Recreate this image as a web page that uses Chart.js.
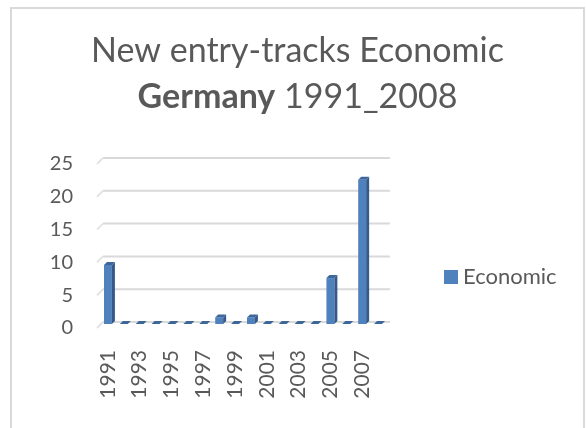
<!DOCTYPE html>
<html>
<head>
<meta charset="utf-8">
<script src="https://cdn.jsdelivr.net/npm/chart.js@4/dist/chart.umd.min.js"></script>
<style>
  html, body { margin: 0; padding: 0; background: #fff; overflow: hidden; }
  canvas { display: block; }
</style>
</head>
<body>
<canvas id="chart" width="586" height="428"></canvas>
<script>
// Yearly new entry-tracks (Economic), Germany
const years = ['1991','1992','1993','1994','1995','1996','1997','1998','1999',
               '2000','2001','2002','2003','2004','2005','2006','2007','2008'];
const economic = [9, 0, 0, 0, 0, 0, 0, 1, 0, 1, 0, 0, 0, 0, 7, 0, 22, 0];
const yTicks = [0, 5, 10, 15, 20, 25];
const seriesName = 'Economic';
const titleLine1 = 'New entry-tracks Economic';
const titleBold = 'Germany';
const titleRest = ' 1991_2008';

const FONT = 'Lato';
const TEXT = '#595959';
const BLUE = '#4f81bd';
const TITLE_SIZE = 34;

// Outer frame of the chart object
const framePlugin = {
  id: 'frame',
  beforeDraw(chart) {
    const ctx = chart.ctx;
    ctx.save();
    ctx.fillStyle = '#fff';
    ctx.fillRect(0, 0, chart.width, chart.height);
    ctx.strokeStyle = '#d9d9d9';
    ctx.lineWidth = 2;
    ctx.strokeRect(11, 8, 573, 520);
    ctx.restore();
  }
};

// Two-line title, second line with a bold country name
const titlePlugin = {
  id: 'twoLineTitle',
  afterDraw(chart) {
    const ctx = chart.ctx;
    const cx = 297.5;
    const regular = `${TITLE_SIZE}px ${FONT}`;
    const bold = `bold ${TITLE_SIZE}px ${FONT}`;
    ctx.save();
    ctx.fillStyle = TEXT;
    ctx.textBaseline = 'alphabetic';
    ctx.textAlign = 'left';
    ctx.font = regular;
    const w1 = ctx.measureText(titleLine1).width;
    ctx.fillText(titleLine1, cx - w1 / 2, 62);
    ctx.font = bold;
    const wb = ctx.measureText(titleBold).width;
    ctx.font = regular;
    const wr = ctx.measureText(titleRest).width;
    const x0 = cx - (wb + wr) / 2;
    ctx.font = bold;
    ctx.fillText(titleBold, x0, 108);
    ctx.font = regular;
    ctx.fillText(titleRest, x0 + wb, 108);
    ctx.restore();
  }
};

// Back-wall gridlines with a short side-wall slant on the left
const wallGridPlugin = {
  id: 'wallGrid',
  beforeDatasetsDraw(chart) {
    const { ctx, chartArea, scales } = chart;
    ctx.save();
    ctx.lineWidth = 2;
    yTicks.forEach(v => {
      const y = scales.y.getPixelForValue(v) - 2;
      ctx.strokeStyle = '#d9d9d9';
      ctx.beginPath();
      ctx.moveTo(chartArea.left + 3, y);
      ctx.lineTo(chartArea.right + 4, y);
      ctx.stroke();
      ctx.strokeStyle = '#e3e3e3';
      ctx.beginPath();
      ctx.moveTo(chartArea.left - 3, y + 6);
      ctx.lineTo(chartArea.left + 3, y);
      ctx.stroke();
    });
    ctx.restore();
  }
};

// Side and top faces that give the columns depth
const columnDepthPlugin = {
  id: 'columnDepth',
  afterDatasetsDraw(chart) {
    const ctx = chart.ctx;
    const d = 3;
    ctx.save();
    chart.getDatasetMeta(0).data.forEach(el => {
      const { x, y, base, width } = el.getProps(['x', 'y', 'base', 'width'], true);
      const h = width / 2;
      // right side face
      if (base - y > 0.5) {
        ctx.fillStyle = '#34598a';
        ctx.beginPath();
        ctx.moveTo(x + h, y);
        ctx.lineTo(x + h + d, y - d);
        ctx.lineTo(x + h + d, base - d);
        ctx.lineTo(x + h, base);
        ctx.closePath();
        ctx.fill();
      }
      // top face
      ctx.fillStyle = '#3d679c';
      ctx.beginPath();
      ctx.moveTo(x - h, y);
      ctx.lineTo(x - h + d, y - d);
      ctx.lineTo(x + h + d, y - d);
      ctx.lineTo(x + h, y);
      ctx.closePath();
      ctx.fill();
    });
    ctx.restore();
  }
};

// Legend entry at the right of the plot
const sideLegendPlugin = {
  id: 'sideLegend',
  afterDraw(chart) {
    const ctx = chart.ctx;
    const ds = chart.data.datasets[0];
    ctx.save();
    ctx.fillStyle = ds.backgroundColor;
    ctx.fillRect(444, 270, 14, 14);
    ctx.fillStyle = TEXT;
    ctx.font = `22px ${FONT}`;
    ctx.textBaseline = 'middle';
    ctx.textAlign = 'left';
    ctx.fillText(ds.label, 463, 277);
    ctx.restore();
  }
};

new Chart(document.getElementById('chart'), {
  type: 'bar',
  data: {
    labels: years,
    datasets: [{
      label: seriesName,
      data: economic,
      backgroundColor: BLUE,
      barPercentage: 0.5,
      categoryPercentage: 1
    }]
  },
  options: {
    responsive: false,
    animation: false,
    devicePixelRatio: 1,
    layout: { padding: { top: 160, left: 11, right: 200, bottom: 0 } },
    plugins: {
      legend: { display: false },
      title: { display: false },
      tooltip: { enabled: false }
    },
    scales: {
      x: {
        grid: { display: false, drawTicks: false },
        border: { display: false },
        ticks: {
          autoSkip: false,
          maxRotation: 90,
          minRotation: 90,
          padding: 26,
          color: TEXT,
          font: { family: FONT, size: 21 },
          callback: (v, i) => (i % 2 === 0 ? years[i] : '')
        },
        afterFit: s => { s.height = 104; }
      },
      y: {
        min: 0,
        max: 25,
        afterBuildTicks: s => { s.ticks = yTicks.map(v => ({ value: v })); },
        grid: { display: false, drawTicks: false },
        border: { display: false },
        ticks: {
          padding: 27,
          labelOffset: 4,
          color: TEXT,
          font: { family: FONT, size: 20 }
        },
        afterFit: s => { s.width = 89; }
      }
    }
  },
  plugins: [framePlugin, wallGridPlugin, columnDepthPlugin, titlePlugin, sideLegendPlugin]
});
</script>
</body>
</html>
